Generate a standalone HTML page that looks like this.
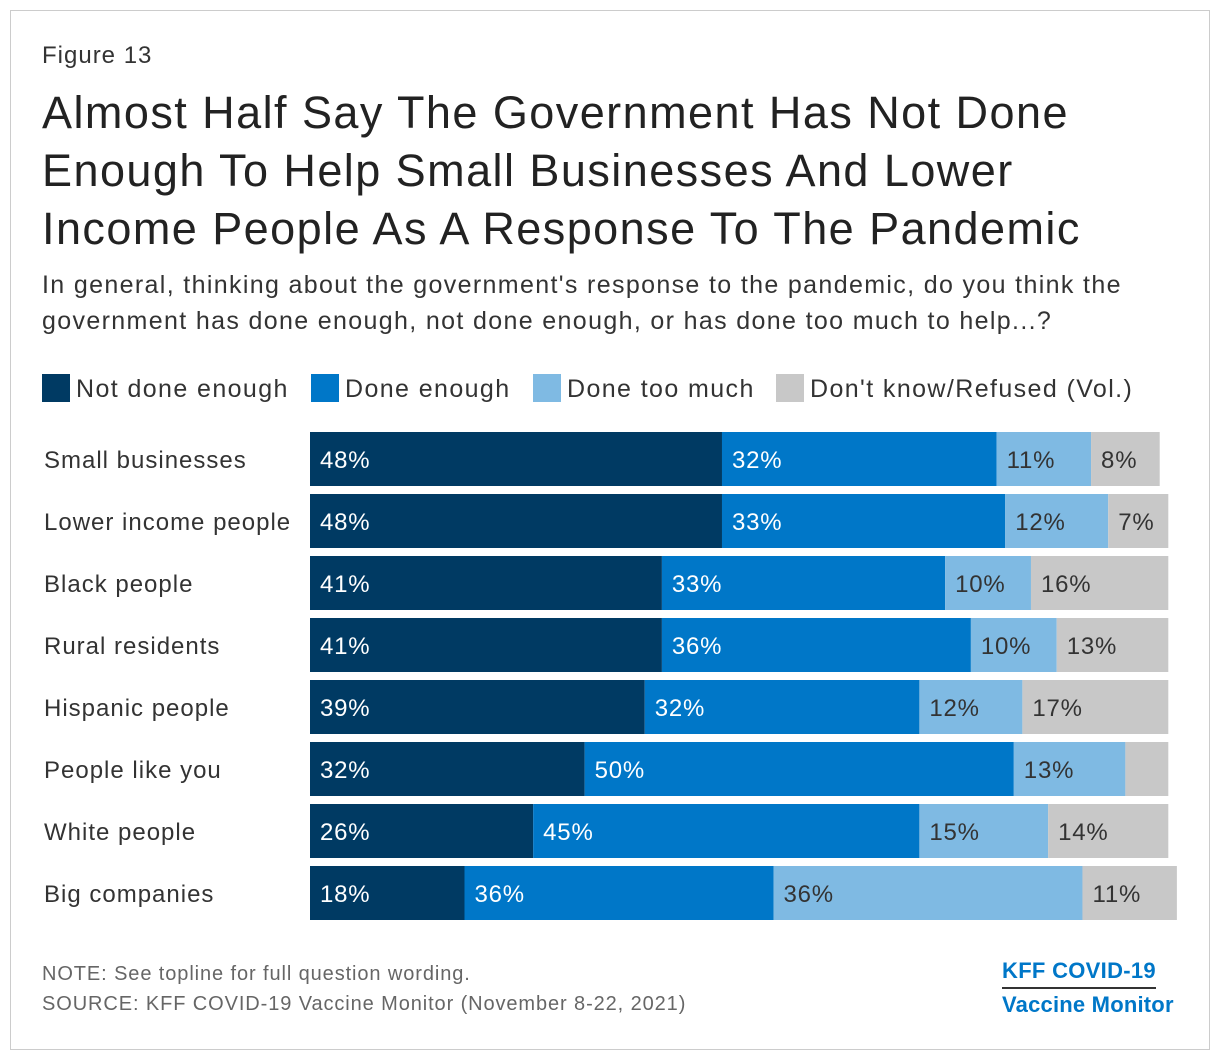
<!DOCTYPE html>
<html><head><meta charset="utf-8"><style>
body{margin:0;background:#fff;width:1220px;height:1060px;position:relative;font-family:"Liberation Sans",sans-serif;overflow:hidden}
.frame{position:absolute;left:10px;top:10px;width:1198px;height:1038px;border:1px solid #ccc}
.t{position:absolute;color:#333;white-space:nowrap}
</style></head><body>
<div class="frame"></div>
<div class="t" style="left:42px;top:42px;font-size:24px;letter-spacing:1px">Figure 13</div>
<div class="t" style="left:42px;top:84px;font-size:45px;line-height:58px;color:#222;letter-spacing:1.45px">Almost Half Say The Government Has Not Done<br>Enough To Help Small Businesses And Lower<br>Income People As A Response To The Pandemic</div>
<div class="t" style="left:42px;top:267px;font-size:25px;line-height:36px;letter-spacing:1.35px">In general, thinking about the government's response to the pandemic, do you think the<br>government has done enough, not done enough, or has done too much to help...?</div>
<div id="legend"></div>
<svg id="chart" width="1220" height="1060" style="position:absolute;left:0;top:0"></svg>
<div class="t" style="left:42px;top:963px;font-size:20px;color:#666;letter-spacing:0.9px">NOTE: See topline for full question wording.</div>
<div class="t" style="left:42px;top:993px;font-size:20px;color:#666;letter-spacing:0.9px">SOURCE: KFF COVID-19 Vaccine Monitor (November 8-22, 2021)</div>
<div style="position:absolute;left:1002px;top:955px;font-size:22px;font-weight:bold;color:#0077c8;line-height:32px;white-space:nowrap;font-family:'Liberation Sans',sans-serif"><div style="border-bottom:2px solid #333;padding-bottom:0;width:154px;letter-spacing:0.3px">KFF COVID-19</div><div style="letter-spacing:0.2px">Vaccine Monitor</div></div>
<script>
const categories=["Small businesses","Lower income people","Black people","Rural residents","Hispanic people","People like you","White people","Big companies"];
const notEnough=[48,48,41,41,39,32,26,18];
const enough=[32,33,33,36,32,50,45,36];
const tooMuch=[11,12,10,10,12,13,15,36];
const dontKnow=[8,7,16,13,17,5,14,11];
const hideLabels=[[],[],[],[],[],[3],[],[]];
const seriesNames=["Not done enough","Done enough","Done too much","Don't know/Refused (Vol.)"];
const colors=["#003a63","#0077c8","#7fbae3","#c8c8c8"];
const textColors=["#fff","#fff","#333","#333"];
const series=[notEnough,enough,tooMuch,dontKnow];
const x0=310,pxPer=8.583,y0=432,step=62,bh=54;
const svg=document.getElementById('chart');const NS="http://www.w3.org/2000/svg";
const xs=v=>v*pxPer;
categories.forEach((c,i)=>{
 const y=y0+i*step;
 const t=document.createElementNS(NS,'text');
 t.setAttribute('x',44);t.setAttribute('y',y+bh/2+9);t.setAttribute('font-size','24');t.setAttribute('fill','#333');t.setAttribute('letter-spacing','1');t.textContent=c;
 
 
 svg.appendChild(t);
 let acc=0;
 series.forEach((s,k)=>{
  const v=s[i];
  const r=document.createElementNS(NS,'rect');
  r.setAttribute('x',x0+xs(acc));r.setAttribute('y',y);r.setAttribute('width',xs(v));r.setAttribute('height',bh);r.setAttribute('fill',colors[k]);
  
  
  svg.appendChild(r);
  if(!hideLabels[i].includes(k)){
   const l=document.createElementNS(NS,'text');
   l.setAttribute('x',x0+xs(acc)+10);l.setAttribute('y',y+bh/2+9);l.setAttribute('font-size','24');l.setAttribute('fill',textColors[k]);l.setAttribute('letter-spacing','0.8');l.textContent=v+'%';
   
   
   svg.appendChild(l);
  }
  acc+=v;
 });
});
const lg=document.getElementById('legend');
const lx=[42,311,533,776];
seriesNames.forEach((n,k)=>{
 const d=document.createElement('div');
 d.style.cssText=`position:absolute;left:${lx[k]}px;top:374px;font-size:25px;color:#333;white-space:nowrap;letter-spacing:1.4px`;
 d.innerHTML=`<span style="display:inline-block;width:28px;height:28px;background:${colors[k]};vertical-align:-5px;margin-right:6px"></span>${n}`;
 
 
 lg.appendChild(d);
});
</script>
</body></html>
